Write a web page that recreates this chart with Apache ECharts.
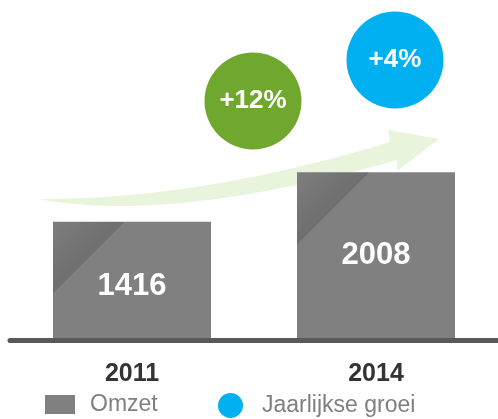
<!DOCTYPE html>
<html>
<head>
<meta charset="utf-8">
<script src="https://cdn.jsdelivr.net/npm/echarts@6/dist/echarts.min.js"></script>
<style>
  html, body { margin: 0; padding: 0; background: #fff; }
  #chart { width: 498px; height: 419px; }
</style>
</head>
<body>
<div id="chart"></div>
<script>
  // omzet per jaar
  var years = ['2011', '2014'];
  var omzet = [1416, 2008];

  // jaarlijkse groei (bolletjes), niveau = hoogte van het bolletje
  var groeiLabels = ['+12%', '+4%'];
  var groeiNiveau = [1, 2];
  var groeiKleur = ['#70a82f', '#00b0f0'];

  var font = '"Liberation Sans", Arial, sans-serif';

  // donkere driehoek linksboven in elke balk
  function barFill(w, h) {
    var L = 72;
    return {
      type: 'linear', x: 0, y: 0, x2: L / w, y2: L / h,
      colorStops: [
        { offset: 0, color: '#7e7e7e' },
        { offset: 0.5, color: '#6e6e6e' },
        { offset: 0.5, color: '#808080' },
        { offset: 1, color: '#808080' }
      ]
    };
  }

  // decoratieve pijl: twee kwadratische bochten + punt
  function quad(p0, c, p1, n) {
    var pts = [];
    for (var i = 0; i <= n; i++) {
      var t = i / n, u = 1 - t;
      pts.push([u * u * p0[0] + 2 * u * t * c[0] + t * t * p1[0],
                u * u * p0[1] + 2 * u * t * c[1] + t * t * p1[1]]);
    }
    return pts;
  }
  var arrowPts = quad([38, 199], [200, 200], [390, 142], 30)
    .concat([[388, 130], [439, 139], [397, 171]])
    .concat(quad([397, 160], [170, 224], [38, 199], 30));

  var barHeights = [118.5, 168.5];
  var barData = omzet.map(function (v, i) {
    return {
      value: v,
      itemStyle: { color: barFill(158, barHeights[i]) },
      label: { offset: i === 0 ? [0, 5] : [0, -1] }
    };
  });

  var groeiData = groeiNiveau.map(function (v, i) {
    return { value: v, itemStyle: { color: groeiKleur[i] } };
  });

  var chart = echarts.init(document.getElementById('chart'));

  var option = {
    animation: false,
    graphic: [{
      type: 'polygon',
      z: 0,
      shape: { points: arrowPts },
      style: { fill: '#e9f4dd' }
    }],
    legend: [{
      data: ['Omzet'],
      left: 45, top: 393, padding: 0,
      icon: 'rect', itemWidth: 30, itemHeight: 19,
      textStyle: { fontFamily: font, fontSize: 23, color: '#7f7f7f', padding: [0, 0, 0, 10] }
    }, {
      data: ['Jaarlijkse groei'],
      left: 218, top: 393, padding: 0,
      icon: 'circle', itemWidth: 25, itemHeight: 25,
      textStyle: { fontFamily: font, fontSize: 23, color: '#7f7f7f', padding: [0, 0, 0, 14] }
    }],
    grid: [
      { left: 10, width: 492, top: 5.2, bottom: 78.5 },
      { left: 182, width: 284, top: 19, bottom: 277 }
    ],
    xAxis: [{
      type: 'category',
      gridIndex: 0,
      data: years,
      z: 3,
      axisLine: { lineStyle: { color: '#595959', width: 5 } },
      axisTick: { show: false },
      axisLabel: { margin: 21, fontFamily: font, fontSize: 25, fontWeight: 'bold', color: '#333333' }
    }, {
      type: 'category',
      gridIndex: 1,
      data: groeiLabels,
      show: false
    }],
    yAxis: [{
      type: 'value',
      gridIndex: 0,
      min: 0, max: 4000,
      show: false
    }, {
      type: 'value',
      gridIndex: 1,
      min: 0, max: 3,
      show: false
    }],
    series: [{
      name: 'Omzet',
      type: 'bar',
      data: barData,
      barWidth: 158,
      itemStyle: { color: '#808080' },
      label: {
        show: true, position: 'inside',
        fontFamily: font, fontSize: 31, fontWeight: 'bold', color: '#ffffff'
      }
    }, {
      name: 'Jaarlijkse groei',
      type: 'scatter',
      xAxisIndex: 1, yAxisIndex: 1,
      data: groeiData,
      symbolSize: 97,
      itemStyle: { color: '#00b0f0', opacity: 1 },
      label: {
        show: true, position: 'inside', formatter: '{b}',
        fontFamily: font, fontSize: 26, fontWeight: 'bold', color: '#ffffff'
      }
    }]
  };

  chart.setOption(option);
</script>
</body>
</html>
